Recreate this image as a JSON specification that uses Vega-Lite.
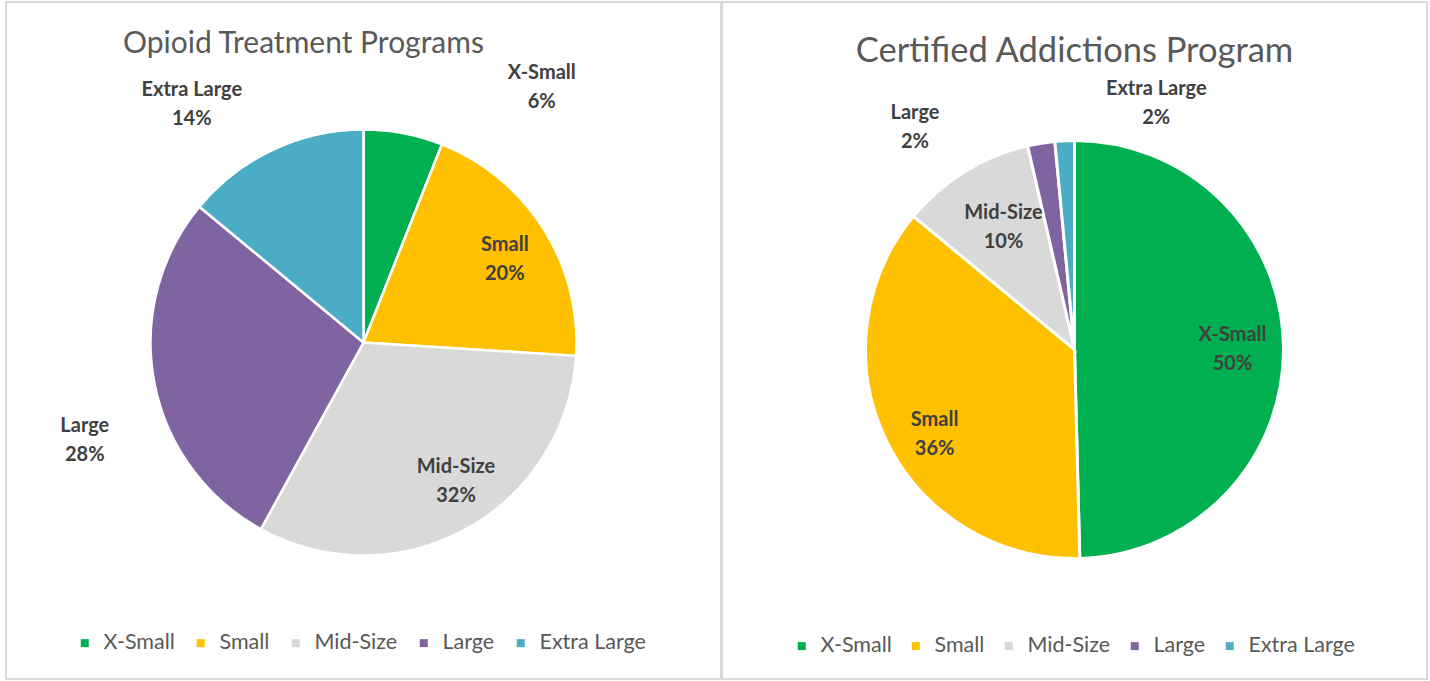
{
  "$schema": "https://vega.github.io/schema/vega-lite/v6.json",
  "padding": {"left": 5, "top": 1, "right": 0, "bottom": 0},
  "spacing": 1,
  "bounds": "flush",
  "background": "white",
  "config": {"view": {"stroke": null}, "font": "Lato"},
  "resolve": {"legend": {"color": "independent"}},
  "datasets": {
    "otp": [
      {"cat": "X-Small", "v": 6, "rank": 1, "lab": "X-Small\n6%"},
      {"cat": "Small", "v": 20, "rank": 2, "lab": "Small\n20%"},
      {"cat": "Mid-Size", "v": 32, "rank": 3, "lab": "Mid-Size\n32%"},
      {"cat": "Large", "v": 28, "rank": 4, "lab": "Large\n28%"},
      {"cat": "Extra Large", "v": 14, "rank": 5, "lab": "Extra Large\n14%"}
    ],
    "cap": [
      {"cat": "X-Small", "v": 49.6, "rank": 1, "lab": "X-Small\n50%"},
      {"cat": "Small", "v": 36.4, "rank": 2, "lab": "Small\n36%"},
      {"cat": "Mid-Size", "v": 10.4, "rank": 3, "lab": "Mid-Size\n10%"},
      {"cat": "Large", "v": 2.1, "rank": 4, "lab": "Large\n2%"},
      {"cat": "Extra Large", "v": 1.5, "rank": 5, "lab": "Extra Large\n2%"}
    ]
  },
  "hconcat": [
    {
      "width": 715,
      "height": 677,
      "title": {"text": "Opioid Treatment Programs", "fontSize": 30, "fontWeight": "normal", "color": "#595959", "font": "Lato", "anchor": "middle", "dx": -60, "offset": 0, "dy": 82, "baseline": "alphabetic"},
      "data": {"name": "otp"},
      "layer": [
        {
          "data": {"values": [{}]},
          "mark": {"type": "rect", "filled": false, "stroke": "#d9d9d9", "strokeWidth": 2},
          "encoding": {}
        },
        {
          "mark": {"type": "arc", "outerRadius": 213, "stroke": "white", "strokeWidth": 2.5, "yOffset": 2},
          "encoding": {
            "theta": {"field": "v", "type": "quantitative", "stack": true},
            "order": {"field": "rank", "type": "quantitative", "sort": "ascending"},
            "color": {
              "field": "cat", "type": "nominal",
              "scale": {"domain": ["X-Small", "Small", "Mid-Size", "Large", "Extra Large"], "range": ["#00B050", "#FFC000", "#D9D9D9", "#8064A2", "#4BACC6"]},
              "legend": {"orient": "none", "legendX": 68, "legendY": 630, "direction": "horizontal", "title": null, "symbolType": "square", "symbolSize": 64, "symbolStrokeWidth": 0, "labelFontSize": 21.5, "labelFont": "Lato", "labelColor": "#595959", "columnPadding": 15, "labelOffset": 8, "padding": 0}
            }
          }
        },
        {
          "mark": {"type": "text", "radius": 165, "dx": 2, "dy": -7, "fontSize": 20, "fontWeight": "bold", "font": "Lato", "color": "#404040", "lineBreak": "\n", "lineHeight": 29},
          "encoding": {
            "theta": {"field": "v", "type": "quantitative", "stack": true},
            "order": {"field": "rank", "type": "quantitative", "sort": "ascending"},
            "text": {"field": "lab", "condition": {"test": "datum.cat !== 'Small'", "value": ""}}
          }
        },
        {
          "mark": {"type": "text", "radius": 165, "dx": 13, "dy": -18, "fontSize": 20, "fontWeight": "bold", "font": "Lato", "color": "#404040", "lineBreak": "\n", "lineHeight": 29},
          "encoding": {
            "theta": {"field": "v", "type": "quantitative", "stack": true},
            "order": {"field": "rank", "type": "quantitative", "sort": "ascending"},
            "text": {"field": "lab", "condition": {"test": "datum.cat !== 'Mid-Size'", "value": ""}}
          }
        },
        {
          "mark": {"type": "text", "radius": 300, "dx": 122, "dy": 27, "fontSize": 20, "fontWeight": "bold", "font": "Lato", "color": "#404040", "lineBreak": "\n", "lineHeight": 29},
          "encoding": {
            "theta": {"field": "v", "type": "quantitative", "stack": true},
            "order": {"field": "rank", "type": "quantitative", "sort": "ascending"},
            "text": {"field": "lab", "condition": {"test": "datum.cat !== 'X-Small'", "value": ""}}
          }
        },
        {
          "mark": {"type": "text", "radius": 300, "dx": -44, "dy": 21, "fontSize": 20, "fontWeight": "bold", "font": "Lato", "color": "#404040", "lineBreak": "\n", "lineHeight": 29},
          "encoding": {
            "theta": {"field": "v", "type": "quantitative", "stack": true},
            "order": {"field": "rank", "type": "quantitative", "sort": "ascending"},
            "text": {"field": "lab", "condition": {"test": "datum.cat !== 'Extra Large'", "value": ""}}
          }
        },
        {
          "mark": {"type": "text", "radius": 300, "dx": 16, "dy": 29, "fontSize": 20, "fontWeight": "bold", "font": "Lato", "color": "#404040", "lineBreak": "\n", "lineHeight": 29},
          "encoding": {
            "theta": {"field": "v", "type": "quantitative", "stack": true},
            "order": {"field": "rank", "type": "quantitative", "sort": "ascending"},
            "text": {"field": "lab", "condition": {"test": "datum.cat !== 'Large'", "value": ""}}
          }
        }
      ]
    },
    {
      "width": 705,
      "height": 677,
      "title": {"text": "Certified Addictions Program", "fontSize": 34.5, "fontWeight": "normal", "color": "#595959", "font": "Lato", "anchor": "middle", "dx": 0, "offset": -95, "baseline": "alphabetic"},
      "data": {"name": "cap"},
      "layer": [
        {
          "data": {"values": [{}]},
          "mark": {"type": "rect", "filled": false, "stroke": "#d9d9d9", "strokeWidth": 2},
          "encoding": {}
        },
        {
          "mark": {"type": "arc", "outerRadius": 209, "stroke": "white", "strokeWidth": 3, "yOffset": 9},
          "encoding": {
            "theta": {"field": "v", "type": "quantitative", "stack": true},
            "order": {"field": "rank", "type": "quantitative", "sort": "ascending"},
            "color": {
              "field": "cat", "type": "nominal",
              "scale": {"domain": ["X-Small", "Small", "Mid-Size", "Large", "Extra Large"], "range": ["#00B050", "#FFC000", "#D9D9D9", "#8064A2", "#4BACC6"]},
              "legend": {"orient": "none", "legendX": 69, "legendY": 633, "direction": "horizontal", "title": null, "symbolType": "square", "symbolSize": 64, "symbolStrokeWidth": 0, "labelFontSize": 21.5, "labelFont": "Lato", "labelColor": "#595959", "columnPadding": 13, "labelOffset": 8, "padding": 0}
            }
          }
        },
        {
          "mark": {"type": "text", "radius": 157, "dx": 1, "dy": -4, "fontSize": 20, "fontWeight": "bold", "font": "Lato", "color": "#404040", "lineBreak": "\n", "lineHeight": 29},
          "encoding": {
            "theta": {"field": "v", "type": "quantitative", "stack": true},
            "order": {"field": "rank", "type": "quantitative", "sort": "ascending"},
            "text": {"field": "lab", "condition": {"test": "datum.cat !== 'X-Small'", "value": ""}}
          }
        },
        {
          "mark": {"type": "text", "radius": 160, "dx": 4, "dy": 10, "fontSize": 20, "fontWeight": "bold", "font": "Lato", "color": "#404040", "lineBreak": "\n", "lineHeight": 29},
          "encoding": {
            "theta": {"field": "v", "type": "quantitative", "stack": true},
            "order": {"field": "rank", "type": "quantitative", "sort": "ascending"},
            "text": {"field": "lab", "condition": {"test": "datum.cat !== 'Small'", "value": ""}}
          }
        },
        {
          "mark": {"type": "text", "radius": 160, "dx": 13, "dy": 9, "fontSize": 20, "fontWeight": "bold", "font": "Lato", "color": "#404040", "lineBreak": "\n", "lineHeight": 29},
          "encoding": {
            "theta": {"field": "v", "type": "quantitative", "stack": true},
            "order": {"field": "rank", "type": "quantitative", "sort": "ascending"},
            "text": {"field": "lab", "condition": {"test": "datum.cat !== 'Mid-Size'", "value": ""}}
          }
        },
        {
          "mark": {"type": "text", "radius": 260, "dx": -118, "dy": 29, "fontSize": 20, "fontWeight": "bold", "font": "Lato", "color": "#404040", "lineBreak": "\n", "lineHeight": 29},
          "encoding": {
            "theta": {"field": "v", "type": "quantitative", "stack": true},
            "order": {"field": "rank", "type": "quantitative", "sort": "ascending"},
            "text": {"field": "lab", "condition": {"test": "datum.cat !== 'Large'", "value": ""}}
          }
        },
        {
          "mark": {"type": "text", "radius": 260, "dx": 94, "dy": 8, "fontSize": 20, "fontWeight": "bold", "font": "Lato", "color": "#404040", "lineBreak": "\n", "lineHeight": 29},
          "encoding": {
            "theta": {"field": "v", "type": "quantitative", "stack": true},
            "order": {"field": "rank", "type": "quantitative", "sort": "ascending"},
            "text": {"field": "lab", "condition": {"test": "datum.cat !== 'Extra Large'", "value": ""}}
          }
        }
      ]
    }
  ]
}
